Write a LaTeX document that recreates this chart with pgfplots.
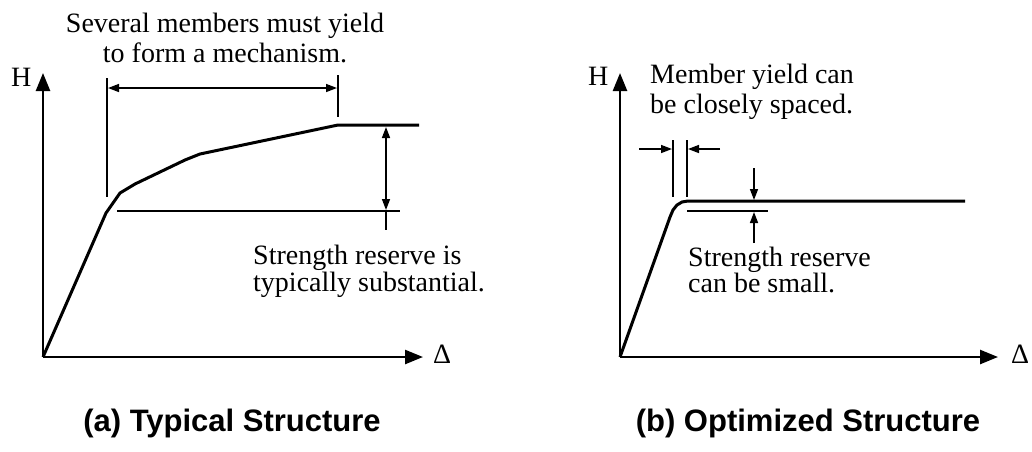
\documentclass[border=0pt]{standalone}
\usepackage{pgfplots}
\pgfplotsset{compat=1.18}
\usepackage{fontspec}
\setmainfont{Liberation Serif}
\newfontfamily\sansb{Liberation Sans}
\usetikzlibrary{arrows.meta}
\begin{document}
\begin{tikzpicture}
\path[use as bounding box] (0,0) rectangle (1032pt,451pt);
\begin{axis}[at={(0,0)},anchor=south west,width=1032pt,height=451pt,scale only axis,
  xmin=0,xmax=1032,ymin=0,ymax=451,y dir=reverse,hide axis,clip=false]
% ---------- (a) ----------
\addplot[line width=2.5pt,-{Triangle[length=18pt,width=14pt]}] coordinates {(43,357) (43,73)};
\addplot[line width=2.5pt,-{Triangle[length=18pt,width=14pt]}] coordinates {(43,357) (423,357)};
\addplot[line width=3pt,line join=round] coordinates {(43,357) (106,213) (120,193) (135,184) (185,160) (200,154) (338,125) (419,125)};
\addplot[line width=1.8pt] coordinates {(107,78) (107,197)};
\addplot[line width=1.8pt] coordinates {(338,75) (338,117)};
\addplot[line width=1.5pt,{Triangle[length=11pt,width=8pt]}-{Triangle[length=11pt,width=8pt]}] coordinates {(108,88) (337,88)};
\addplot[line width=2pt] coordinates {(117,211) (400,211)};
\addplot[line width=1.5pt,{Triangle[length=11pt,width=8pt]}-{Triangle[length=11pt,width=8pt]}] coordinates {(386,127) (386,210)};
\addplot[line width=1.5pt] coordinates {(386,210) (386,230)};
% ---------- (b) ----------
\addplot[line width=2.5pt,-{Triangle[length=18pt,width=14pt]}] coordinates {(620,357) (620,73)};
\addplot[line width=2.5pt,-{Triangle[length=18pt,width=14pt]}] coordinates {(620,357) (998,357)};
\addplot[line width=3pt,line join=round] coordinates {(620,357) (670,217) (673,210) (677,205) (682,202) (688,201) (965,201)};
\addplot[line width=1.8pt] coordinates {(673,140) (673,197)};
\addplot[line width=1.8pt] coordinates {(687,140) (687,197)};
\addplot[line width=1.5pt,-{Triangle[length=11pt,width=8pt]}] coordinates {(639,149) (672,149)};
\addplot[line width=1.5pt,-{Triangle[length=11pt,width=8pt]}] coordinates {(720,149) (688,149)};
\addplot[line width=2pt] coordinates {(687,211) (768,211)};
\addplot[line width=1.5pt,-{Triangle[length=11pt,width=8pt]}] coordinates {(754,168) (754,200)};
\addplot[line width=1.5pt,-{Triangle[length=11pt,width=8pt]}] coordinates {(754,243) (754,212)};
% ---------- text ----------
\begin{scope}[every node/.style={inner sep=0pt,font=\fontsize{28}{30}\selectfont}]
\node[anchor=base] at (axis cs:225,32) {Several members must yield};
\node[anchor=base] at (axis cs:225,62) {to form a mechanism.};
\node[anchor=base west] at (axis cs:253,264) {Strength reserve is};
\node[anchor=base west] at (axis cs:253,291) {typically substantial.};
\node[anchor=base west] at (axis cs:11,86) {H};
\node[anchor=base west] at (axis cs:433,363) {Δ};
\node[anchor=base west] at (axis cs:650,83) {Member yield can};
\node[anchor=base west] at (axis cs:650,113) {be closely spaced.};
\node[anchor=base west] at (axis cs:688,266) {Strength reserve};
\node[anchor=base west] at (axis cs:688,292) {can be small.};
\node[anchor=base west] at (axis cs:588,85) {H};
\node[anchor=base west] at (axis cs:1011,363) {Δ};
\end{scope}
\node[inner sep=0pt,anchor=base,font=\sansb\bfseries\fontsize{31}{33}\selectfont] at (axis cs:232,431) {(a) Typical Structure};
\node[inner sep=0pt,anchor=base,font=\sansb\bfseries\fontsize{31}{33}\selectfont] at (axis cs:808,431) {(b) Optimized Structure};
\end{axis}
\end{tikzpicture}
\end{document}
